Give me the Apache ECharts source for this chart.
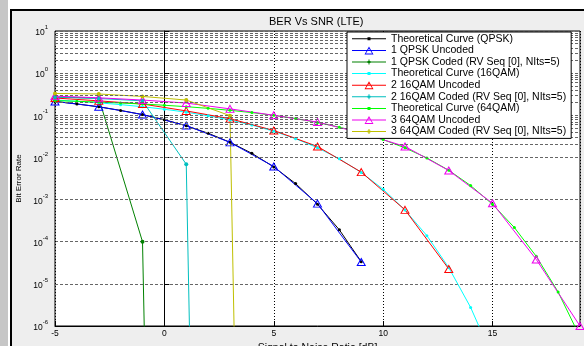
<!DOCTYPE html>
<html>
<head>
<meta charset="utf-8">
<script src="https://cdn.jsdelivr.net/npm/echarts@6/dist/echarts.min.js"></script>
<style>
html,body{margin:0;padding:0;background:#eeeeee;}
#c{width:584px;height:346px;}
</style>
</head>
<body>
<div id="c"></div>
<script>
// ---------- data ----------
const seriesNames = [
  'Theoretical Curve (QPSK)', '1 QPSK Uncoded', '1 QPSK Coded (RV Seq [0], NIts=5)',
  'Theoretical Curve (16QAM)', '2 16QAM Uncoded', '2 16QAM Coded (RV Seq [0], NIts=5)',
  'Theoretical Curve (64QAM)', '3 64QAM Uncoded', '3 64QAM Coded (RV Seq [0], NIts=5)'
];
const xTheoQPSK = [-5,-4,-3,-2,-1,0,1,2,3,4,5,6,7,8,9];
const berTheoQPSK = [0.2132,0.1861,0.1584,0.1306,0.1038,0.0786,0.0563,0.0375,0.0229,0.0125,0.00595,0.00239,0.000773,0.000191,0.0000336];
const xUncQPSK = [-5,-3,-1,1,3,5,7,9];
const berUncQPSK = [0.213,0.160,0.104,0.057,0.0228,0.0061,0.00080,0.000033];
const xCodQPSK = [-5,-3,-1,1];
const berCodQPSK = [0.27,0.255,0.0001,1e-55];
const xTheo16 = [-5,-4,-3,-2,-1,0,1,2,3,4,5,6,7,8,9,10,11,12,13,14,15];
const berTheo16 = [0.2306,0.2147,0.1975,0.1790,0.1595,0.1391,0.1183,0.0976,0.0774,0.0586,0.0419,0.0279,0.01696,0.00925,0.00439,0.00176,0.000564,0.000139,0.0000243,0.00000276,0.000000184];
const xUnc16 = [-5,-3,-1,1,3,5,7,9,11,13];
const berUnc16 = [0.257,0.22,0.185,0.127,0.083,0.0436,0.0182,0.00448,0.00057,0.0000226];
const xCod16 = [-5,-3,-1,1,3];
const berCod16 = [0.27,0.25,0.22,0.0069,1e-55];
const xTheo64 = [-5,-4,-3,-2,-1,0,1,2,3,4,5,6,7,8,9,10,11,12,13,14,15,16,17,18,19];
const berTheo64 = [0.2228,0.2146,0.2057,0.1958,0.1848,0.1729,0.1600,0.1461,0.1313,0.1157,0.0997,0.0835,0.0675,0.0523,0.0385,0.0265,0.01688,0.00972,0.00495,0.00215,0.000772,0.000217,0.000045,0.0000064,0.00000055];
const xUnc64 = [-5,-3,-1,1,3,5,7,9,11,13,15,17,19];
const berUnc64 = [0.285,0.26,0.23,0.195,0.142,0.1,0.069,0.038,0.0182,0.0049,0.00082,0.000038,0.000001];
const xCod64 = [-5,-3,-1,1,3,5];
const berCod64 = [0.33,0.32,0.28,0.23,0.098,1e-55];
const xTicks = [-5,0,5,10,15];
const xTitle = 'Signal to Noise Ratio [dB]';
const yTitle = 'Bit Error Rate';
const chartTitle = 'BER Vs SNR (LTE)';

// ---------- styling ----------
const FONT = '"Liberation Sans", Arial, sans-serif';
const colors = ['#000000','#0000ff','#008000','#00ffff','#ff0000','#00bfbf','#00ff00','#ee00ee','#bfbf00'];
const kinds = ['theo','unc','cod','theo','unc','cod','theo','unc','cod'];
const xs = [xTheoQPSK,xUncQPSK,xCodQPSK,xTheo16,xUnc16,xCod16,xTheo64,xUnc64,xCod64];
const ys = [berTheoQPSK,berUncQPSK,berCodQPSK,berTheo16,berUnc16,berCod16,berTheo64,berUnc64,berCod64];

const BOX = 'M0,0L0,0ZM34,10L34,10Z';
const LINE = 'M0,4.5L34,4.5L34,5.5L0,5.5Z';
const ICONS = {
  theo: 'path://' + BOX + LINE + 'M15.5,3.5L18.5,3.5L18.5,6.5L15.5,6.5Z',
  cod: 'path://' + BOX + LINE + 'M16.5,2.5L17.5,2.5L17.5,7.5L16.5,7.5ZM15.5,4L18.5,4L18.5,6L15.5,6Z',
  unc: 'path://' + BOX + LINE + 'M17,1L21.5,9L12.5,9ZM17,3.2L13.9,8L20.1,8Z'
};

// minor grid values (2..9 per decade)
const minorVals = [];
for (let d = -6; d <= 0; d++) for (let k = 2; k <= 9; k++) minorVals.push(k * Math.pow(10, d));

const series = [{
  type: 'line', name: '', data: [], silent: true, z: 1,
  markLine: {
    silent: true, symbol: ['none','none'], animation: false,
    label: {show: false},
    lineStyle: {color: '#666', type: [3,2], width: 1},
    emphasis: {disabled: true},
    data: minorVals.map(v => ({yAxis: v}))
  }
}];
seriesNames.forEach((n, i) => {
  const k = kinds[i];
  const s = {
    type: 'line', name: n, z: 2,
    data: xs[i].map((x, j) => [x, ys[i][j]]),
    clip: true,
    lineStyle: {color: colors[i], width: 1},
    emphasis: {disabled: true},
    animation: false
  };
  if (k === 'unc') {
    s.symbol = 'triangle';
    s.symbolSize = [8, 7];
    s.itemStyle = {color: 'rgba(0,0,0,0)', borderColor: colors[i], borderWidth: 1};
  } else {
    s.symbol = 'circle';
    s.symbolSize = k === 'theo' ? 3 : 4;
    s.itemStyle = {color: colors[i], borderWidth: 0};
  }
  series.push(s);
});

const chart = echarts.init(document.getElementById('c'), null, {renderer: 'canvas'});
chart.setOption({
  backgroundColor: '#eeeeee',
  animation: false,
  textStyle: {fontFamily: FONT},
  graphic: [
    {type: 'rect', shape: {x: 0, y: 0, width: 584, height: 9}, style: {fill: '#ffffff'}, silent: true, z: -10},
    {type: 'rect', shape: {x: 0, y: 0, width: 8, height: 346}, style: {fill: '#c6c6c6'}, silent: true, z: -9},
    {type: 'rect', shape: {x: 8, y: 0, width: 2, height: 346}, style: {fill: '#ffffff'}, silent: true, z: -9},
    {type: 'rect', shape: {x: 10, y: 9, width: 2, height: 337}, style: {fill: '#000000'}, silent: true, z: -9},
    {type: 'rect', shape: {x: 10, y: 9, width: 574, height: 2}, style: {fill: '#000000'}, silent: true, z: -9}
  ],
  title: {
    text: chartTitle, left: 269, top: 16, padding: 0,
    textStyle: {fontSize: 11, fontWeight: 'normal', color: '#000', fontFamily: FONT}
  },
  legend: {
    orient: 'vertical', left: 347, top: 32, z: 20,
    padding: [1, 5, 1, 5],
    itemWidth: 34, itemHeight: 10, itemGap: 0,
    backgroundColor: '#ffffff', borderColor: '#000000', borderWidth: 1,
    itemStyle: {borderWidth: 0},
    textStyle: {fontSize: 10.5, color: '#000', fontFamily: FONT, lineHeight: 11.6},
    selectedMode: false,
    data: seriesNames.map((n, i) => ({name: n, icon: ICONS[kinds[i]], itemStyle: {color: colors[i], borderWidth: 0}}))
  },
  grid: {
    left: 55, right: 4, top: 31, bottom: 20,
    show: true, backgroundColor: '#ffffff', borderColor: '#000000', borderWidth: 1,
    containLabel: false, outerBoundsMode: 'none'
  },
  xAxis: {
    type: 'value', min: -5, max: 19, interval: 5,
    name: xTitle, nameLocation: 'middle', nameGap: 10,
    nameTextStyle: {fontSize: 10.5, color: '#000', fontFamily: FONT},
    axisLine: {show: true, lineStyle: {color: '#000', width: 1}},
    axisTick: {show: true, inside: true, length: 5, lineStyle: {color: '#000'}},
    axisLabel: {fontSize: 8.5, color: '#000', margin: 3, showMaxLabel: false, fontFamily: FONT,
      formatter: v => (xTicks.indexOf(v) >= 0 ? String(v) : '')},
    splitLine: {show: true, lineStyle: {color: '#000', type: [1, 2], width: 1}}
  },
  yAxis: {
    type: 'log', logBase: 10, min: 1e-6, max: 10, splitNumber: 7,
    name: yTitle, nameLocation: 'middle', nameGap: 24,
    nameTextStyle: {fontSize: 8, color: '#000', fontFamily: FONT},
    axisLine: {show: true, lineStyle: {color: '#000', width: 1}},
    axisTick: {show: true, inside: true, length: 5, lineStyle: {color: '#000'}},
    axisLabel: {
      color: '#000', margin: 7, fontFamily: FONT,
      formatter: v => '{b|10}{s|' + Math.round(Math.log10(v)) + '}',
      rich: {
        b: {fontSize: 8.5, color: '#000', fontFamily: FONT, verticalAlign: 'bottom', lineHeight: 13},
        s: {fontSize: 6, color: '#000', fontFamily: FONT, verticalAlign: 'top', lineHeight: 6}
      }
    },
    splitLine: {show: true, lineStyle: {color: '#666', type: [3, 2], width: 1}}
  },
  series: series
});
</script>
</body>
</html>
